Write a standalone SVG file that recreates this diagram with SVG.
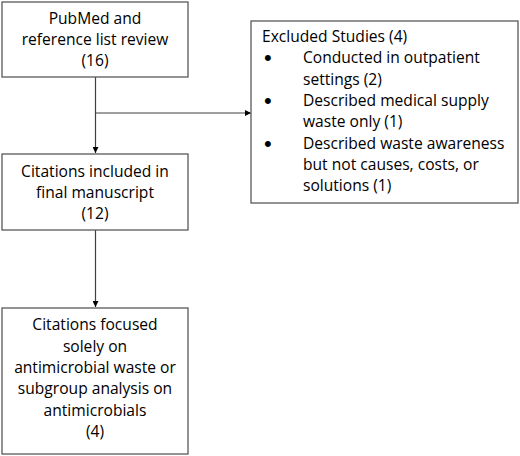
<svg xmlns="http://www.w3.org/2000/svg" width="520" height="456" viewBox="0 0 520 456">
<defs>
<style>
.box{fill:#fff;stroke:#595959;stroke-width:1.3}
.t{font-family:"Open Sans","Liberation Sans",sans-serif;font-size:15.6px;fill:#000}
.c{text-anchor:middle}
.b{font-family:"Liberation Sans",sans-serif;font-size:22px;fill:#000}
.ln{stroke:#404040;stroke-width:1.2;fill:none}
</style>
<marker id="ah" viewBox="0 0 10 10" refX="10" refY="5" markerWidth="6" markerHeight="6" orient="auto" markerUnits="userSpaceOnUse">
<path d="M0,0 L10,5 L0,10 z" fill="#000"/>
</marker>
</defs>
<rect width="520" height="456" fill="#fff"/>
<g id="connectors">
<line class="ln" x1="95.5" y1="77" x2="95.5" y2="153" marker-end="url(#ah)"/>
<line class="ln" x1="95.5" y1="113" x2="251" y2="113" marker-end="url(#ah)"/>
<line class="ln" x1="95.5" y1="230" x2="95.5" y2="307" marker-end="url(#ah)"/>
</g>
<g id="n1">
<rect class="box" x="2" y="2" width="186" height="75"/>
<text class="t c" x="95" y="24">PubMed and</text>
<text class="t c" x="95" y="45">reference list review</text>
<text class="t c" x="95" y="66">(16)</text>
</g>
<g id="n2">
<rect class="box" x="2" y="154" width="186" height="76"/>
<text class="t c" x="95" y="177">Citations included in</text>
<text class="t c" x="95" y="198">final manuscript</text>
<text class="t c" x="95" y="219">(12)</text>
</g>
<g id="n3">
<rect class="box" x="251" y="21" width="267" height="182"/>
<text class="t" x="262" y="42">Excluded Studies (4)</text>
<text class="b" x="264" y="65">•</text>
<text class="t" x="303" y="63">Conducted in outpatient</text>
<text class="t" x="303" y="85">settings (2)</text>
<text class="b" x="264" y="108">•</text>
<text class="t" x="303" y="106">Described medical supply</text>
<text class="t" x="303" y="127">waste only (1)</text>
<text class="b" x="264" y="151">•</text>
<text class="t" x="303" y="149">Described waste awareness</text>
<text class="t" x="303" y="170">but not causes, costs, or</text>
<text class="t" x="303" y="191">solutions (1)</text>
</g>
<g id="n4">
<rect class="box" x="2" y="308" width="186" height="146"/>
<text class="t c" x="95" y="330">Citations focused</text>
<text class="t c" x="95" y="352">solely on</text>
<text class="t c" x="95" y="373">antimicrobial waste or</text>
<text class="t c" x="95" y="394">subgroup analysis on</text>
<text class="t c" x="95" y="416">antimicrobials</text>
<text class="t c" x="95" y="437">(4)</text>
</g>
</svg>
